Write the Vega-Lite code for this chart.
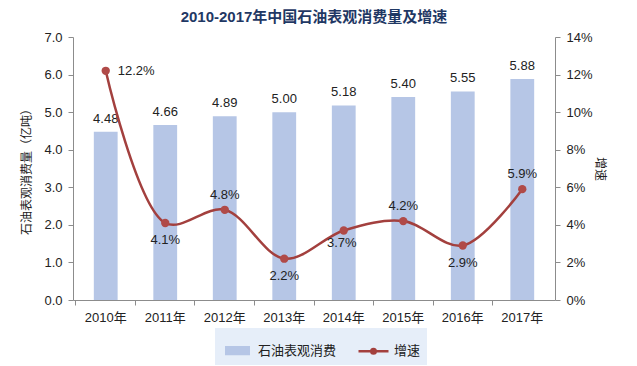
{
  "$schema": "https://vega.github.io/schema/vega-lite/v6.json",
  "autosize": "none",
  "width": 482,
  "height": 263,
  "padding": {"left": 73, "top": 37, "right": 82, "bottom": 66},
  "background": "#ffffff",
  "title": {
    "text": "2010-2017年中国石油表观消费量及增速",
    "font": "Liberation Sans, Noto Sans CJK SC",
    "fontSize": 15,
    "fontWeight": "bold",
    "color": "#1F3864",
    "anchor": "middle",
    "offset": 6
  },
  "config": {
    "view": {"stroke": null},
    "font": "Liberation Sans, Noto Sans CJK SC",
    "axis": {
      "labelFont": "Liberation Sans, Noto Sans CJK SC",
      "labelFontSize": 13,
      "labelColor": "#222222",
      "domainColor": "#8c8c8c",
      "tickColor": "#8c8c8c",
      "tickSize": 5,
      "grid": false,
      "titleFont": "Noto Sans CJK SC",
      "titleFontSize": 12,
      "titleFontWeight": "normal",
      "titleColor": "#222222"
    }
  },
  "data": {
    "values": [
      {"year": "2010年", "consumption": 4.48, "growth": 0.122},
      {"year": "2011年", "consumption": 4.66, "growth": 0.041},
      {"year": "2012年", "consumption": 4.89, "growth": 0.048},
      {"year": "2013年", "consumption": 5.00, "growth": 0.022},
      {"year": "2014年", "consumption": 5.18, "growth": 0.037},
      {"year": "2015年", "consumption": 5.40, "growth": 0.042},
      {"year": "2016年", "consumption": 5.55, "growth": 0.029},
      {"year": "2017年", "consumption": 5.88, "growth": 0.059}
    ]
  },
  "encoding": {
    "x": {
      "field": "year",
      "type": "ordinal",
      "sort": null,
      "scale": {"paddingInner": 0.6, "paddingOuter": 0.35},
      "axis": {
        "title": null,
        "labelAngle": 0,
        "labelPadding": 6,
        "bandPosition": -0.75
      }
    }
  },
  "layer": [
    {
      "encoding": {
        "y": {
          "field": "consumption",
          "type": "quantitative",
          "scale": {"domain": [0, 7]},
          "axis": {
            "orient": "left",
            "values": [0, 1, 2, 3, 4, 5, 6, 7],
            "format": ".1f",
            "title": "石油表观消费量（亿吨）",
            "titlePadding": 10,
            "labelPadding": 6
          }
        }
      },
      "layer": [
        {
          "mark": {"type": "bar", "color": "#B6C6E6"},
          "encoding": {
            "color": {
              "datum": "石油表观消费",
              "scale": {"domain": ["石油表观消费", "增速"], "range": ["#B6C6E6", "#A3403E"]},
              "legend": {
                "title": null,
                "orient": "none",
                "legendX": 142,
                "legendY": 291,
                "direction": "horizontal",
                "labelFont": "Noto Sans CJK SC",
                "labelFontSize": 13,
                "labelColor": "#222222",
                "symbolSize": 900,
                "symbolStrokeWidth": 2.5,
                "columnPadding": 16,
                "fillColor": "#E6EEF9",
                "padding": 6,
                "encode": {
                  "symbols": {
                    "update": {
                      "shape": {"signal": "datum.value == '增速' ? 'M-1,0H1M-0.15,0A0.15,0.15,0,1,1,0.15,0A0.15,0.15,0,1,1,-0.15,0' : 'M-0.75,-0.22H0.75V0.22H-0.75Z'"},
                      "stroke": {"signal": "datum.value == '增速' ? '#A3403E' : 'transparent'"},
                      "fill": {"signal": "datum.value == '增速' ? '#A3403E' : '#B6C6E6'"},
                      "strokeWidth": {"value": 2.5}
                    }
                  }
                }
              }
            }
          }
        },
        {
          "mark": {"type": "text", "dy": -13, "fontSize": 13, "color": "#222222", "font": "Liberation Sans"},
          "encoding": {
            "text": {"field": "consumption", "type": "quantitative", "format": ".2f"}
          }
        }
      ]
    },
    {
      "encoding": {
        "y": {
          "field": "growth",
          "type": "quantitative",
          "scale": {"domain": [0, 0.14]},
          "axis": {
            "orient": "right",
            "values": [0, 0.02, 0.04, 0.06, 0.08, 0.1, 0.12, 0.14],
            "format": ".0%",
            "title": "增速",
            "titleAngle": 90,
            "titlePadding": 0,
            "labelPadding": 6
          }
        }
      },
      "layer": [
        {
          "mark": {"type": "line", "interpolate": "catmull-rom", "strokeWidth": 2.5},
          "encoding": {
            "color": {"datum": "增速"}
          }
        },
        {
          "mark": {"type": "point", "filled": true, "size": 70, "opacity": 1, "color": "#B04A48"},
          "encoding": {}
        },
        {
          "transform": [{"filter": "datum.year == '2010年'"}],
          "mark": {"type": "text", "fontSize": 13, "color": "#222222", "font": "Liberation Sans", "align": "left", "dx": 12},
          "encoding": {
            "text": {"field": "growth", "type": "quantitative", "format": ".1%"}
          }
        },
        {
          "transform": [{"filter": "indexof(['2011年','2013年','2016年'], datum.year) >= 0"}],
          "mark": {"type": "text", "fontSize": 13, "color": "#222222", "font": "Liberation Sans", "dy": 17},
          "encoding": {
            "text": {"field": "growth", "type": "quantitative", "format": ".1%"}
          }
        },
        {
          "transform": [{"filter": "datum.year == '2014年'"}],
          "mark": {"type": "text", "fontSize": 13, "color": "#222222", "font": "Liberation Sans", "dy": 13, "dx": -2},
          "encoding": {
            "text": {"field": "growth", "type": "quantitative", "format": ".1%"}
          }
        },
        {
          "transform": [{"filter": "indexof(['2012年','2015年','2017年'], datum.year) >= 0"}],
          "mark": {"type": "text", "fontSize": 13, "color": "#222222", "font": "Liberation Sans", "dy": -15},
          "encoding": {
            "text": {"field": "growth", "type": "quantitative", "format": ".1%"}
          }
        }
      ]
    }
  ],
  "resolve": {"scale": {"y": "independent"}, "axis": {"y": "independent"}}
}
